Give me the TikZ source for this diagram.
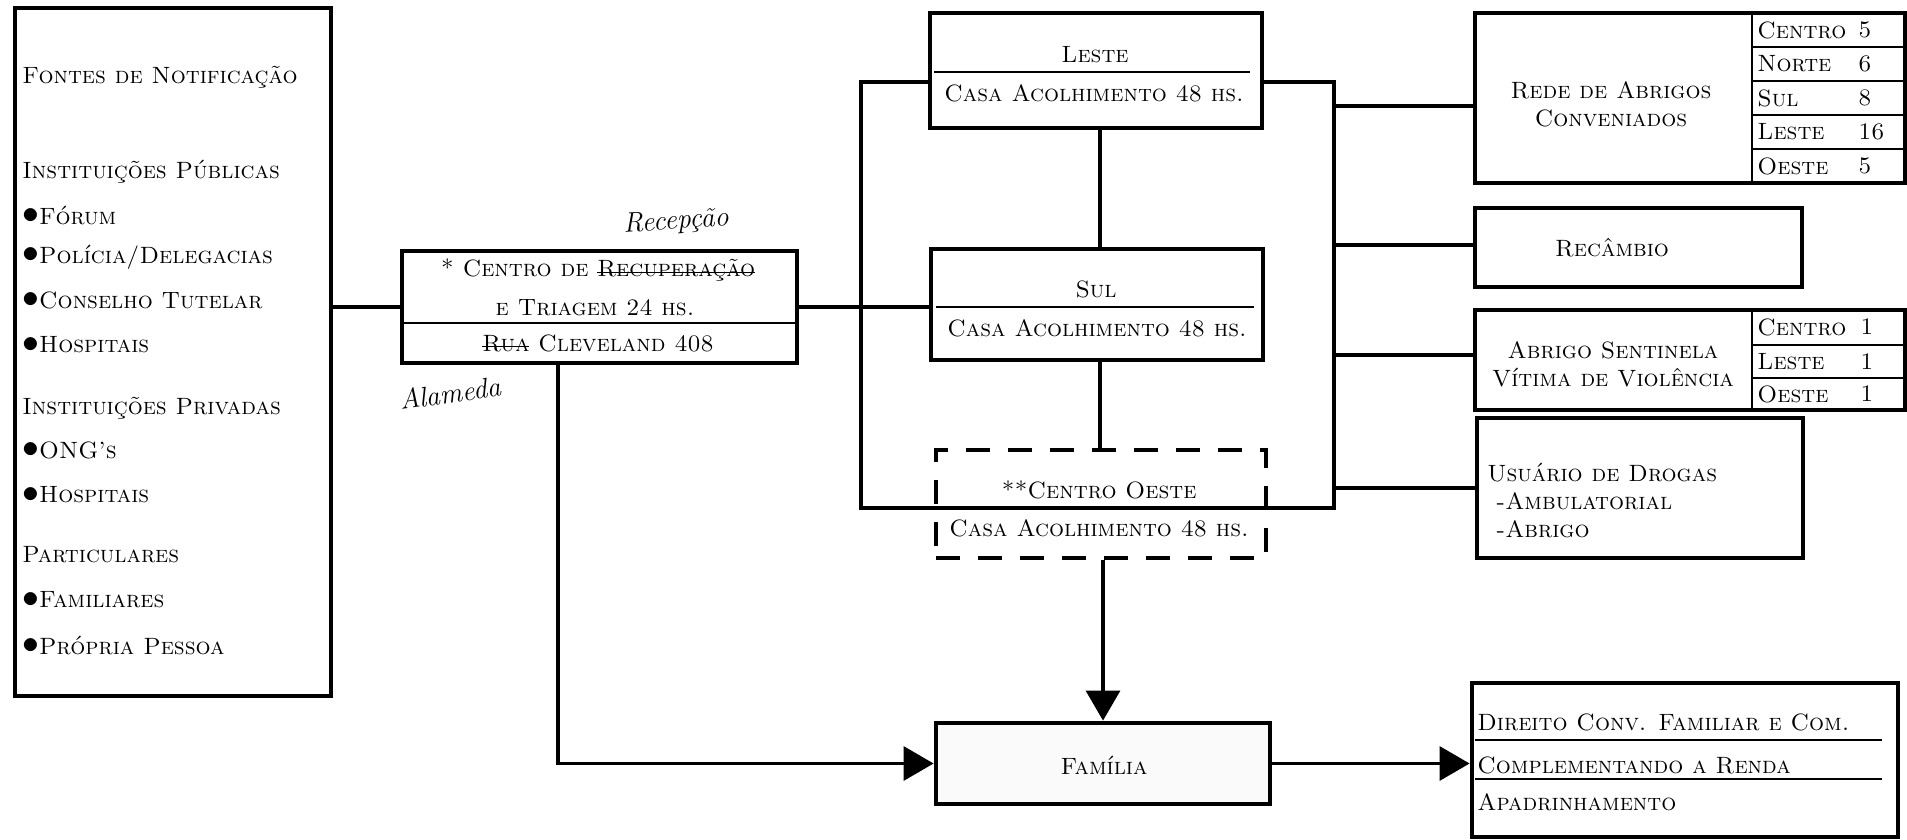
\documentclass[tikz,border=0pt]{standalone}
\usetikzlibrary{fit,arrows.meta}
\newcommand{\marca}{\raisebox{0.05ex}{\scalebox{1.4}{$\bullet$}}}
\newcommand{\riscado}[1]{\setbox0\hbox{#1}\rlap{\raisebox{0.3ex}{\rule{\wd0}{0.6pt}}}\box0\relax}

\begin{document}
\begin{tikzpicture}[x=0.5pt, y=-0.5pt,
		caixa/.style={draw, line width=2.4pt, inner sep=0pt},
		texto/.style={font=\fontsize{11.8}{14}\selectfont\scshape, inner sep=0pt},
		mao/.style={font=\fontsize{14}{16}\selectfont\itshape, inner sep=0pt},
		liga/.style={line width=1.6pt},
		divisa/.style={line width=1.2pt},
		seta/.style={liga, -{Triangle[length=15pt, width=17pt]}}]
	\useasboundingbox[fill=white] (0,0) rectangle (1907,840);
	% Fontes de notificacao (left)
	\node[caixa, fit={(15,8) (331,696)}] (fontes) {};
	\foreach \y/\t [count=\i] in {77/{Fontes de Notificação}, 172/{Instituições Públicas},
			215/{\marca Fórum}, 257/{\marca Polícia/Delegacias}, 300/{\marca Conselho Tutelar},
			345/{\marca Hospitais}, 408/{Instituições Privadas}, 450/{\marca ONG's},
			495/{\marca Hospitais}, 555/{Particulares}, 600/{\marca Familiares}, 645/{\marca Própria Pessoa}}
		\node[texto, anchor=west] (item\i) at (22,\y) {\t};
	% Centro de triagem
	\node[caixa, fit={(402,251) (797,363)}] (triagem) {};
	\draw[divisa] (triagem.west |- 0,323) -- (triagem.east |- 0,323);
	\node[texto] (tri1) at (598,270) {* Centro de \riscado{Recuperação}};
	\node[texto] (tri2) at (595,308) {e Triagem 24 hs.};
	\node[texto] (tri3) at (598,343) {\riscado{Rua} Cleveland 408};
	\node[mao, rotate=4] (recepcao) at (676,222) {Recepção};
	\node[mao, rotate=8] (alameda) at (450,393) {Alameda};
	% Casas de acolhimento
	\node[caixa, fit={(930,13) (1262,128)}] (leste) {};
	\draw[divisa] (934,72) -- (1250,72);
	\node[texto] (leste1) at (1095,55) {Leste};
	\node[texto] (leste2) at (1094,93) {Casa Acolhimento 48 hs.};
	\node[caixa, fit={(931,249) (1263,360)}] (sul) {};
	\draw[divisa] (936,307) -- (1254,307);
	\node[texto] (sul1) at (1096,289) {Sul};
	\node[texto] (sul2) at (1097,328) {Casa Acolhimento 48 hs.};
	\node[caixa, dashed, dash pattern=on 12pt off 9pt, fit={(936,450) (1266,558)}] (oeste) {};
	\node[texto] (oeste1) at (1099,490) {**Centro Oeste};
	\node[texto] (oeste2) at (1099,528) {Casa Acolhimento 48 hs.};
	\node[caixa, fill=gray!4, fit={(936,723) (1270,804)}] (familia) {};
	\node[texto] (familia1) at (1104,765) {Família};
	% Servicos (right)
	\node[caixa, fit={(1475,13) (1905,183)}] (rede) {};
	\draw[divisa] (1752,13) -- (1752,183);
	\foreach \y in {47,81,115,149} \draw[divisa] (1752,\y) -- (1905,\y);
	\node[texto, align=center] (rede1) at (1611,104) {Rede de Abrigos\\Conveniados};
	\foreach \y/\t/\n in {30/Centro/5, 64/Norte/6, 98/Sul/8, 132/Leste/16, 166/Oeste/5} {
		\node[texto, anchor=west] (r\t) at (1757,\y) {\t};
		\node[texto, anchor=west] (n\t) at (1858,\y) {\n};
	}
	\node[caixa, fit={(1475,208) (1802,287)}] (recambio) {};
	\node[texto] (recambio1) at (1612,248) {Recâmbio};
	\node[caixa, fit={(1475,310) (1905,410)}] (sentinela) {};
	\draw[divisa] (1752,310) -- (1752,410);
	\foreach \y in {345,378} \draw[divisa] (1752,\y) -- (1905,\y);
	\node[texto, align=center] (sentinela1) at (1613,364) {Abrigo Sentinela\\Vítima de Violência};
	\foreach \y/\t in {327/Centro, 362/Leste, 394/Oeste} {
		\node[texto, anchor=west] (s\t) at (1757,\y) {\t};
		\node[texto, anchor=west] (m\t) at (1860,\y) {1};
	}
	\node[caixa, fit={(1477,418) (1803,558)}] (drogas) {};
	\node[texto, anchor=west, align=left] (drogas1) at (1487,500) {Usuário de Drogas\\\ -Ambulatorial\\\ -Abrigo};
	\node[caixa, fit={(1472,683) (1898,837)}] (direito) {};
	\draw[divisa] (1475,740) -- (1882,740);
	\draw[divisa] (1475,779) -- (1882,779);
	\node[texto, anchor=west] (dir1) at (1477,722) {Direito Conv. Familiar e Com.};
	\node[texto, anchor=west] (dir2) at (1477,765) {Complementando a Renda};
	\node[texto, anchor=west] (dir3) at (1477,802) {Apadrinhamento};
	% Ligacoes
	\coordinate (be1) at (861,82);
	\coordinate (be2) at (861,508);
	\coordinate (bd1) at (1334,82);
	\coordinate (bd2) at (1334,508);
	\coordinate (eixo) at (1100,0);
	\draw[liga] (fontes.east |- triagem.west) -- (triagem.west);
	\draw[liga] (triagem.east) -- (triagem.east -| sul.west);
	\draw[liga] (leste.west |- be1) -- (be1) -- (be2) -- (bd2) -- (bd1) -- (leste.east |- bd1);
	\draw[liga] (leste.south -| eixo) -- (sul.north -| eixo);
	\draw[liga] (sul.south -| eixo) -- (oeste.north -| eixo);
	\draw[seta] (oeste.south -| 1103,0) -- (familia.north -| 1103,0);
	\draw[seta] (triagem.south -| 558,0) |- (familia.west);
	\draw[seta] (familia.east) -- (familia.east -| direito.west);
	\foreach \alvo/\y in {rede/106, recambio/245, sentinela/355, drogas/488}
		\draw[liga] (bd1 |- 0,\y) -- (\alvo.west |- 0,\y);
\end{tikzpicture}
\end{document}
